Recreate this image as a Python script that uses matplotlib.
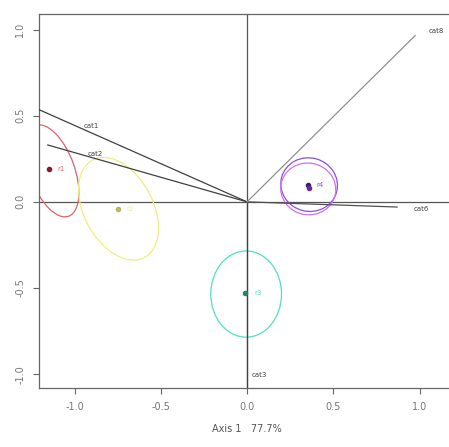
import matplotlib
matplotlib.use("Agg")
import matplotlib.pyplot as plt
from matplotlib.patches import Ellipse

# groups (centroids + ellipse shape)
grp_names = ["r1", "r2", "r3", "r4", "r5"]
grp_x = [-1.15, -0.75, -0.01, 0.355, 0.36]
grp_y = [0.19, -0.04, -0.53, 0.10, 0.08]
ell_cx = [-1.13, -0.745, -0.005, 0.36, 0.355]
ell_cy = [0.18, -0.04, -0.535, 0.10, 0.075]
ell_w = [0.56, 0.64, 0.41, 0.31, 0.30]
ell_h = [0.26, 0.40, 0.50, 0.33, 0.32]
ell_ang = [-70, -62, 0, 75, 80]
grp_colors = ["#E06070", "#EEEE80", "#50E0C0", "#8A50E8", "#D070F0"]
dot_colors = ["#8B1A30", "#B8B860", "#2A8070", "#3A1A80", "#6A2A90"]

# variable arrows
var_names = ["cat1", "cat2", "cat3", "cat6", "cat8"]
var_x = [-1.206, -1.155, 0.0, 0.87, 0.975]
var_y = [0.535, 0.33, -1.08, -0.03, 0.965]
lab_x = [-0.90, -0.88, 0.07, 1.01, 1.10]
lab_y = [0.44, 0.28, -1.005, -0.04, 0.99]
var_colors = ["#404040", "#404040", "#404040", "#505050", "#909090"]

fig = plt.figure(figsize=(4.49, 4.47), dpi=100)
ax = fig.add_axes([39 / 449, 59 / 447, 415 / 449, 374 / 447])
ax.set_xlim(-1.206, 1.2)
ax.set_ylim(-1.08, 1.09)

ax.axhline(0, color="#555555", lw=0.9, zorder=1)
ax.axvline(0, color="#555555", lw=0.9, zorder=1)

for i in range(len(grp_names)):
    e = Ellipse((ell_cx[i], ell_cy[i]), ell_w[i], ell_h[i], angle=ell_ang[i],
                fill=False, edgecolor=grp_colors[i], lw=0.9, zorder=2)
    ax.add_patch(e)
    ax.plot(grp_x[i], grp_y[i], "o", ms=3, color=dot_colors[i], zorder=4)
for i in range(4):
    ax.text(grp_x[i] + 0.05, grp_y[i], grp_names[i], color=grp_colors[i],
            fontsize=5, ha="left", va="center", zorder=5)

for i in range(len(var_names)):
    ax.plot([0, var_x[i]], [0, var_y[i]], color=var_colors[i], lw=0.9, zorder=3)
    ax.text(lab_x[i], lab_y[i], var_names[i], fontsize=5, color="#404040",
            ha="center", va="center", zorder=5)

for s in ["left", "bottom", "top", "right"]:
    ax.spines[s].set_color("#666666")
    ax.spines[s].set_linewidth(0.9)

ticks = [-1.0, -0.5, 0.0, 0.5, 1.0]
ax.set_xticks(ticks)
ax.set_yticks(ticks)
ax.set_xticklabels(["-1.0", "-0.5", "0.0", "0.5", "1.0"])
ax.set_yticklabels(["-1.0", "-0.5", "0.0", "0.5", "1.0"], rotation=90, va="center")
ax.tick_params(direction="out", length=4, width=0.8, colors="#666666",
               labelsize=7, labelcolor="#777777", pad=6)
ax.set_xlabel("Axis 1   77.7%", fontsize=7, color="#555555", labelpad=9)

fig.savefig("out.png", dpi=100)
